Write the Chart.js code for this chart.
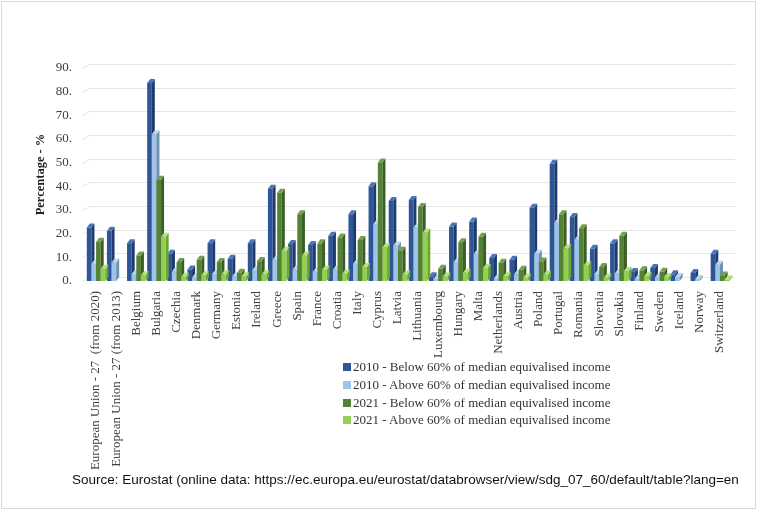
<!DOCTYPE html>
<html>
<head>
<meta charset="utf-8">
<script src="https://cdn.jsdelivr.net/npm/chart.js@4.4.1/dist/chart.umd.min.js"></script>
<style>
  html, body { margin: 0; padding: 0; background: #fff; }
  #wrap { position: relative; width: 759px; height: 513px; overflow: hidden; }
  #frame { position: absolute; left: 1px; top: 1px; width: 755px; height: 508px; border: 1px solid #d9d9d9; box-sizing: border-box; pointer-events: none; }
  #grafico { position: absolute; left: 0; top: 0; }
  #leyenda { position: absolute; left: 343px; top: 358px; font-family: "Liberation Serif", serif; font-size: 13px; color: #333; }
  #leyenda div { height: 17.8px; line-height: 17.8px; white-space: nowrap; }
  #leyenda span { display: inline-block; width: 8px; height: 8px; margin-right: 2px; vertical-align: 0px; }
  #fuente { position: absolute; left: 72px; top: 472px; font-family: "Liberation Sans", sans-serif; font-size: 13.5px; color: #111; white-space: nowrap; }
</style>
</head>
<body>
<div id="wrap">
  <canvas id="grafico" width="759" height="513"></canvas>
  <div id="leyenda"></div>
  <div id="fuente">Source: Eurostat (online data: https://ec.europa.eu/eurostat/databrowser/view/sdg_07_60/default/table?lang=en</div>
  <div id="frame"></div>
</div>
<script>
// Países y agregados
const paises = [
  "European Union - 27  (from 2020)", "European Union - 27 (from 2013)", "Belgium", "Bulgaria",
  "Czechia", "Denmark", "Germany", "Estonia", "Ireland", "Greece", "Spain", "France", "Croatia",
  "Italy", "Cyprus", "Latvia", "Lithuania", "Luxembourg", "Hungary", "Malta", "Netherlands",
  "Austria", "Poland", "Portugal", "Romania", "Slovenia", "Slovakia", "Finland", "Sweden",
  "Iceland", "Norway", "Switzerland"
];

// Porcentaje que no puede mantener el hogar caliente
const bajo2010 = [22.6, 21.2, 16.0, 83.7, 11.5, 4.9, 16.0, 9.4, 16.0, 39.0, 15.6, 15.2, 19.1, 28.2, 40.0, 33.8,
                  34.2, 2.0, 23.0, 25.1, 9.7, 9.0, 31.0, 49.5, 27.0, 13.6, 15.9, 3.8, 5.5, 2.8, 3.4, 11.5];
const sobre2010 = [7.3, 7.8, 3.0, 62.0, 4.0, 1.5, 3.0, 2.0, 4.7, 9.0, 4.9, 3.9, 4.9, 7.3, 24.0, 15.0,
                   22.6, 1.0, 8.0, 11.5, 1.2, 2.8, 11.5, 24.7, 17.4, 3.0, 3.2, 1.0, 1.5, 1.7, 0.8, 6.9];
const bajo2021 = [16.6, null, 10.8, 42.8, 8.0, 9.0, 8.0, 3.5, 8.4, 37.3, 28.2, 15.9, 18.4, 17.3, 50.1, 12.8,
                  31.3, 5.2, 16.4, 18.7, 7.7, 4.8, 8.2, 28.2, 22.3, 5.9, 19.1, 4.5, 3.9, null, null, 2.3];
const sobre2021 = [5.2, null, 2.4, 18.7, 1.8, 2.4, 2.8, 2.0, 2.8, 12.8, 10.8, 4.8, 3.1, 5.9, 14.3, 2.7,
                   20.5, 1.9, 3.5, 5.5, 2.0, 1.5, 2.7, 13.8, 6.6, 1.5, 4.2, 2.0, 1.7, null, null, 0.6];

const series = [
  { label: "2010 - Below 60% of median equivalised income", data: bajo2010, color: "#2e5596", lado: "#1d3b6e", tapa: "#4a73b8" },
  { label: "2010 - Above 60% of median equivalised income", data: sobre2010, color: "#9dc3e6", lado: "#6f8fae", tapa: "#bcd6ee" },
  { label: "2021 - Below 60% of median equivalised income", data: bajo2021, color: "#548235", lado: "#3a5e24", tapa: "#71a04e" },
  { label: "2021 - Above 60% of median equivalised income", data: sobre2021, color: "#92d050", lado: "#6ea536", tapa: "#b3e27f" }
];

const prof = 4; // profundidad del efecto 3D

// Cuadrícula del fondo, desplazada como pared trasera
const pared = {
  id: 'pared',
  beforeDatasetsDraw(chart) {
    const { ctx, chartArea, scales: { y } } = chart;
    ctx.save();
    ctx.strokeStyle = '#e6e6e6';
    ctx.lineWidth = 1;
    y.ticks.forEach(t => {
      const py = Math.round(y.getPixelForValue(t.value)) + 0.5;
      ctx.beginPath();
      ctx.moveTo(chartArea.left - 4, py);
      ctx.lineTo(chartArea.left + prof, py - prof);
      ctx.lineTo(chartArea.right + prof + 1, py - prof);
      ctx.stroke();
    });
    ctx.restore();
  }
};

// Barras con cara frontal, lateral y superior
const barras3d = {
  id: 'barras3d',
  beforeDatasetDraw() { return false; },
  afterDatasetsDraw(chart) {
    const ctx = chart.ctx;
    ctx.save();
    chart.data.datasets.forEach((ds, i) => {
      const meta = chart.getDatasetMeta(i);
      meta.data.forEach((bar, j) => {
        if (ds.data[j] == null) return;
        const { x, y, base, width } = bar.getProps(['x', 'y', 'base', 'width'], true);
        const l = x - width / 2, r = x + width / 2;
        ctx.fillStyle = ds.backgroundColor;
        ctx.fillRect(l, y, width, base - y);
        ctx.fillStyle = ds.lado;
        ctx.beginPath();
        ctx.moveTo(r, y); ctx.lineTo(r + prof - 1, y - prof);
        ctx.lineTo(r + prof - 1, base - prof); ctx.lineTo(r, base);
        ctx.closePath(); ctx.fill();
        ctx.fillStyle = ds.tapa;
        ctx.beginPath();
        ctx.moveTo(l, y); ctx.lineTo(l + prof - 1, y - prof);
        ctx.lineTo(r + prof - 1, y - prof); ctx.lineTo(r, y);
        ctx.closePath(); ctx.fill();
      });
    });
    ctx.restore();
  }
};

const ctx = document.getElementById('grafico').getContext('2d');
const chart = new Chart(ctx, {
  type: 'bar',
  data: {
    labels: paises,
    datasets: series.map(s => ({
      label: s.label,
      data: s.data,
      backgroundColor: s.color,
      lado: s.lado,
      tapa: s.tapa,
      categoryPercentage: 0.92,
      barPercentage: 1.0
    }))
  },
  options: {
    responsive: false,
    animation: false,
    layout: { padding: { left: 33, top: 68, right: 29, bottom: 32 } },
    plugins: {
      legend: { display: false },
      tooltip: { enabled: false }
    },
    scales: {
      x: {
        grid: { display: false },
        border: { display: false },
        ticks: {
          autoSkip: false,
          minRotation: 90,
          maxRotation: 90,
          padding: 2,
          color: '#404040',
          font: { family: 'Liberation Serif', size: 13 }
        },
        afterFit: s => { s.height = 200; }
      },
      y: {
        min: 0,
        max: 90,
        grid: { display: false },
        border: { display: false },
        title: {
          display: true,
          text: 'Percentage - %',
          color: '#222',
          font: { family: 'Liberation Serif', size: 12.5, weight: 'bold' },
          padding: { top: 0, bottom: 8 }
        },
        ticks: {
          stepSize: 10,
          padding: 6,
          color: '#404040',
          font: { family: 'Liberation Serif', size: 13 },
          callback: v => v + '.'
        },
        afterFit: s => { s.width = 53; }
      }
    }
  },
  plugins: [pared, barras3d]
});

// Leyenda en HTML a partir de las series
document.getElementById('leyenda').innerHTML = series
  .map(s => `<div><span style="background:${s.color}"></span>${s.label}</div>`)
  .join('');
</script>
</body>
</html>
